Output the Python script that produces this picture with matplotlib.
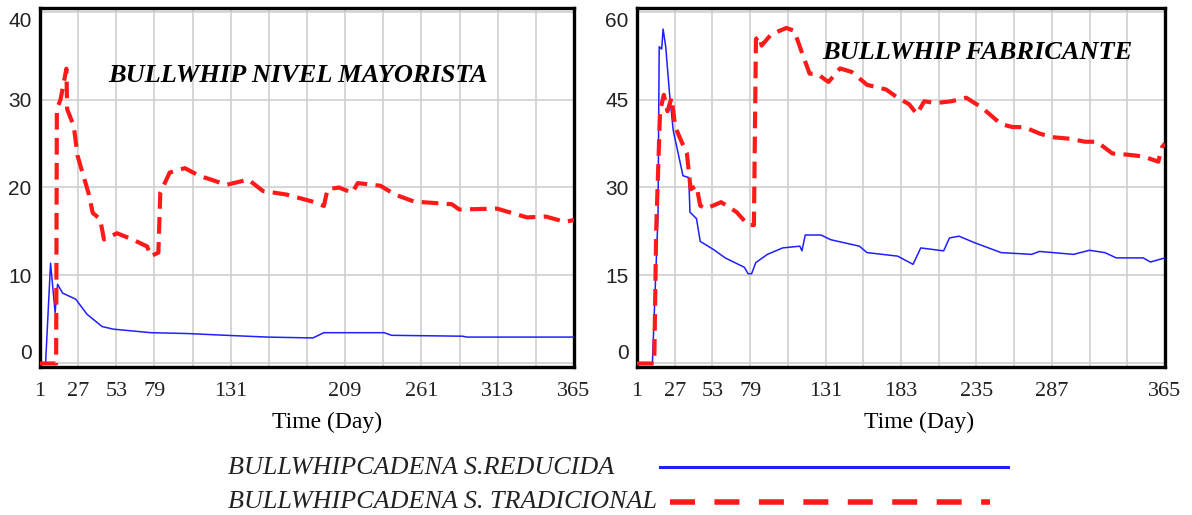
import matplotlib
matplotlib.use("Agg")
import matplotlib.pyplot as plt
from matplotlib.lines import Line2D

# ---- data (day, value) ----
may_days_red = [1, 12, 12.5, 15, 19, 19.5, 24, 26.6, 34, 37, 42, 44.6, 53.5, 64, 74, 76.6, 81.7, 83,
                89.4, 99.7, 110, 117.6, 128, 143, 153, 169, 189, 194.5, 197, 204.8, 213.8, 217.6,
                233, 243, 256, 281.7, 286.8, 312.5, 322.7, 333, 345.8, 358.6, 365]
may_red = [0, 0, 28.9, 30, 33.5, 28.9, 27, 23.6, 19.4, 17.1, 16.4, 14.1, 14.8, 14.1, 13.3, 12.2, 12.6, 19.4,
           21.7, 22.2, 21.3, 20.9, 20.3, 20.9, 19.6, 19.2, 18.3, 17.9, 19.8, 20.0, 19.4, 20.5,
           20.2, 19.2, 18.4, 18.1, 17.5, 17.6, 17.1, 16.6, 16.7, 16.1, 16.3]

may_days_blue = [1, 4.8, 8.2, 11.3, 13, 16.4, 25.4, 33, 43.3, 51, 76.6, 102, 128, 156, 187, 194.5,
                 235.6, 240.7, 289, 292, 365]
may_blue = [0, 0, 11.4, 5.8, 9.0, 8.0, 7.3, 5.6, 4.2, 3.9, 3.5, 3.4, 3.2, 3.0, 2.9, 3.5,
            3.5, 3.2, 3.1, 3.0, 3.0]

fab_days_red = [1, 12.9, 14.2, 16.9, 19.5, 22, 24.8, 27.4, 31.4, 35.4, 38, 42, 44.6, 48.6, 59, 69.7,
                77.6, 81.6, 83, 85.6, 86.9, 93.5, 104, 109.4, 114.7, 120, 125, 133, 141, 149, 159.6,
                172.8, 180.7, 188.6, 194, 199, 207, 217.7, 228, 238.9, 252, 260, 268, 278.5, 286.5,
                299.7, 310, 318, 328.7, 339, 350, 360.4, 363, 365]
fab_red = [0, 0, 22.5, 43, 45.8, 43, 45.3, 40.3, 38, 35.8, 29.7, 30.3, 26.9, 26.4, 27.5, 25.8,
           23.6, 23.6, 55.3, 55.8, 54.2, 56.1, 57.2, 56.7, 53, 49.4, 49.4, 48, 50.3, 49.7, 47.5,
           46.7, 45.3, 44.2, 42.5, 44.7, 44.4, 44.7, 45.3, 43.6, 40.8, 40.3, 40.3, 39.2, 38.6,
           38.3, 37.8, 37.8, 35.8, 35.6, 35.3, 34.4, 36.9, 37.5]

fab_days_blue = [1, 11.6, 14.2, 15.5, 16.3, 18, 19, 20.8, 23.5, 26, 32.7, 36.7, 37.5, 42, 44.6, 50,
                 53.9, 61.8, 75, 77.6, 80, 82.9, 90.9, 101.4, 113.3, 114.7, 117, 127.9, 134.5,
                 154.3, 159.6, 180.7, 191.3, 196.6, 212.4, 216.4, 223, 233.6, 252, 273, 278.5,
                 302, 312.9, 323.5, 331.4, 350, 355, 365]
fab_blue = [0, 0, 16.9, 25.3, 54, 53.6, 57, 54, 45.8, 39.7, 32, 31.7, 25.8, 24.7, 20.8, 20,
            19.4, 18, 16.4, 15.3, 15.3, 17.2, 18.6, 19.7, 20, 19.2, 21.9, 21.9, 21.1,
            20, 18.9, 18.3, 16.9, 19.7, 19.2, 21.4, 21.7, 20.6, 18.9, 18.6, 19.1,
            18.6, 19.3, 18.9, 18, 18, 17.3, 18]

grid_days = list(range(1, 366, 26))
may_xticks = [1, 27, 53, 79, 131, 209, 261, 313, 365]
fab_xticks = [1, 27, 53, 79, 131, 183, 235, 287, 365]
may_yticks = [0, 10, 20, 30, 40]
fab_yticks = [0, 15, 30, 45, 60]

titles = ["BULLWHIP NIVEL MAYORISTA", "BULLWHIP FABRICANTE"]
legend_labels = ["BULLWHIPCADENA S.REDUCIDA", "BULLWHIPCADENA S. TRADICIONAL"]

BLUE = "#1f1fff"
RED = "#ff1a1a"

fig = plt.figure(figsize=(11.92, 5.15), dpi=100)
ax1 = fig.add_axes([40 / 1192, 1 - 367 / 515, 534 / 1192, 359 / 515])
ax2 = fig.add_axes([637 / 1192, 1 - 367 / 515, 528 / 1192, 359 / 515])

panels = [
    (ax1, may_days_blue, may_blue, may_days_red, may_red, may_xticks, may_yticks, (-0.4, 40.4),
     titles[0], (0.483, 0.813), 327),
    (ax2, fab_days_blue, fab_blue, fab_days_red, fab_red, fab_xticks, fab_yticks, (-0.6, 60.6),
     titles[1], (0.644, 0.875), 919),
]

for ax, xb, yb, xr, yr, xt, yt, ylim, title, tpos, xlab in panels:
    ax.plot(xb, yb, color=BLUE, lw=1.1, zorder=3)
    ax.plot(xr, yr, color=RED, lw=3.0, dashes=(4, 2), zorder=4)
    ax.set_xlim(1, 365)
    ax.set_ylim(*ylim)
    ax.set_xticks(grid_days, minor=True)
    ax.set_xticks(xt)
    ax.set_yticks(yt)
    ax.grid(True, which="both", axis="x", color="#cfcfcf", lw=1.2)
    ax.grid(True, axis="y", color="#cfcfcf", lw=1.2)
    ax.set_axisbelow(True)
    ax.tick_params(which="both", length=0)
    ax.tick_params(axis="x", pad=11)
    ax.tick_params(axis="y", pad=6)
    for lab in ax.get_xticklabels():
        lab.set_fontfamily("Liberation Serif")
        lab.set_fontsize(16)
        lab.set_color("#222222")
    for lab in ax.get_yticklabels():
        lab.set_fontfamily("Liberation Sans")
        lab.set_fontsize(15)
        lab.set_color("#222222")
    ylabs = ax.get_yticklabels()
    ylabs[0].set_verticalalignment("bottom")
    ylabs[-1].set_verticalalignment("top")
    for s in ax.spines.values():
        s.set_linewidth(2.4)
        s.set_color("black")
    ax.text(tpos[0], tpos[1], title, transform=ax.transAxes, ha="center", va="center",
            fontfamily="Liberation Serif", fontstyle="italic", fontweight="bold", fontsize=19)
    fig.text(xlab / 1192, 1 - 422 / 515, "Time (Day)", ha="center", va="center",
             fontfamily="Liberation Serif", fontsize=17)

# legend drawn below the panels
fig.text(228 / 1192, 1 - 468 / 515, legend_labels[0], ha="left", va="center",
         fontfamily="Liberation Serif", fontstyle="italic", fontsize=18.8, color="#222222")
fig.text(228 / 1192, 1 - 502 / 515, legend_labels[1], ha="left", va="center",
         fontfamily="Liberation Serif", fontstyle="italic", fontsize=18.8, color="#222222")
fig.add_artist(Line2D([660 / 1192, 1008 / 1192], [1 - 467 / 515, 1 - 467 / 515],
                      transform=fig.transFigure, color=BLUE, lw=2.2))
fig.add_artist(Line2D([670 / 1192, 990 / 1192], [1 - 502 / 515, 1 - 502 / 515],
                      transform=fig.transFigure, color=RED, lw=4, dashes=(4.5, 3.5)))

fig.savefig("out.png", dpi=100)
